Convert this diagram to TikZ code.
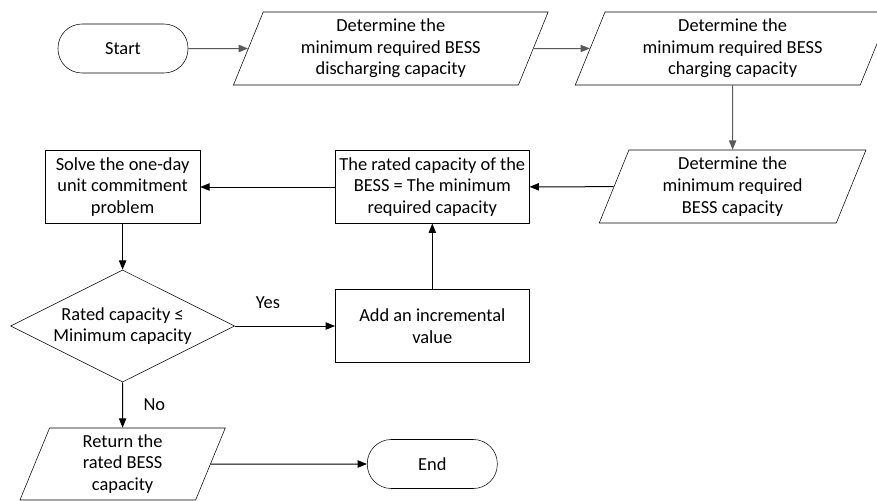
\documentclass[tikz,border=0pt]{standalone}
\usepackage{fontspec}
\setmainfont{Carlito}
\usepackage{tikz}
\usetikzlibrary{shapes.geometric,arrows.meta}

\begin{document}
\begin{tikzpicture}[>={Triangle[length=7pt,width=5.5pt]},x=0.75pt,y=-0.75pt,
    every node/.style={font=\fontsize{13.8}{16.2}\selectfont,align=center},
    terminal/.style={draw,rounded corners=18pt,minimum width=97.5pt,minimum height=36.75pt},
    io/.style={draw,trapezium,trapezium left angle=63.3,trapezium right angle=116.7,
      trapezium stretches body,minimum height=54.75pt,inner sep=0pt},
    process/.style={draw,rectangle,minimum height=54.4pt,inner sep=0pt},
    decision/.style={draw,diamond,aspect=2,minimum width=168pt,minimum height=84pt,inner sep=0pt},
    flow/.style={->,line width=0.75pt},
  ]
    \useasboundingbox (0,0) rectangle (877,500);
    \node[terminal] (start) at (123,48.5) {Start};
    \node[io,minimum width=236pt] (dischg) at (390.8,48.5)
      {Determine the\\minimum required BESS\\discharging capacity};
    \node[io,minimum width=236pt] (chg) at (732.6,48.5)
      {Determine the\\minimum required BESS\\charging capacity};
    \node[io,minimum width=200pt] (mincap) at (732.6,186.5)
      {Determine the\\minimum required\\BESS capacity};
    \node[process,minimum width=145.5pt] (rated) at (432.3,187)
      {The rated capacity of the\\BESS = The minimum\\required capacity};
    \node[process,minimum width=116pt] (uc) at (122.6,187)
      {Solve the one-day\\unit commitment\\problem};
    \node[decision] (check) at (122.6,326)
      {Rated capacity \char"2264\\Minimum capacity};
    \node[process,minimum width=145.5pt] (incr) at (432.3,326)
      {Add an incremental\\value};
    \node[io,minimum width=154pt,minimum height=54pt] (ret) at (122.6,464)
      {Return the\\rated BESS\\capacity};
    \node[terminal] (stop) at (432.3,464) {End};

    \draw[flow,black!65] (start) -- (dischg);
    \draw[flow,black!65] (dischg) -- (chg);
    \draw[flow,black!65] (chg) -- (mincap);
    \draw[flow] (mincap) -- (rated);
    \draw[flow] (rated) -- (uc);
    \draw[flow] (uc) -- (check);
    \draw[flow] (check) -- (incr) node [pos=0.33,above=9pt] {Yes};
    \draw[flow] (incr) -- (rated);
    \draw[flow] (check) -- (ret) node [midway,right=12pt] {No};
    \draw[flow] (ret) -- (stop);
\end{tikzpicture}
\end{document}
